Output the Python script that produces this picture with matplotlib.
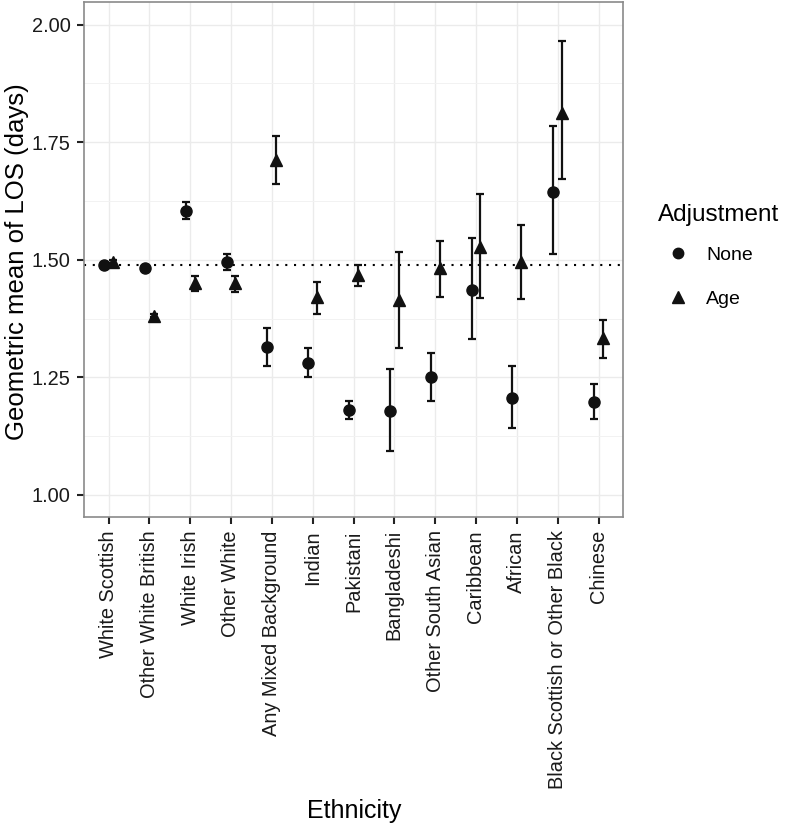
import matplotlib
matplotlib.use("Agg")
import matplotlib.pyplot as plt
from matplotlib.lines import Line2D
import numpy as np

plt.rcParams['font.family'] = ['Liberation Sans', 'DejaVu Sans']

categories = ["White Scottish", "Other White British", "White Irish", "Other White",
              "Any Mixed Background", "Indian", "Pakistani", "Bangladeshi",
              "Other South Asian", "Caribbean", "African",
              "Black Scottish or Other Black", "Chinese"]

none_mean = [1.489, 1.483, 1.604, 1.495, 1.314, 1.281, 1.181, 1.178, 1.251, 1.436, 1.207, 1.643, 1.198]
none_low  = [1.486, 1.480, 1.586, 1.478, 1.273, 1.250, 1.162, 1.094, 1.200, 1.331, 1.143, 1.512, 1.162]
none_high = [1.492, 1.486, 1.622, 1.512, 1.354, 1.313, 1.200, 1.268, 1.302, 1.547, 1.273, 1.784, 1.235]

age_mean = [1.496, 1.381, 1.451, 1.450, 1.711, 1.421, 1.468, 1.414, 1.482, 1.528, 1.496, 1.813, 1.334]
age_low  = [1.493, 1.378, 1.434, 1.431, 1.660, 1.385, 1.445, 1.313, 1.421, 1.419, 1.417, 1.672, 1.292]
age_high = [1.499, 1.384, 1.466, 1.465, 1.764, 1.453, 1.489, 1.517, 1.539, 1.640, 1.574, 1.965, 1.372]

reference = 1.489

fig = plt.figure(figsize=(7.87, 8.26), dpi=100)
ax = fig.add_axes([84/787, 1-517/826, (623-84)/787, (517-2)/826])

x = np.arange(len(categories))
off = 0.11
dark = '#111111'

# gridlines
ax.set_axisbelow(True)
ax.set_yticks([1.125, 1.375, 1.625, 1.875], minor=True)
ax.grid(True, which='major', color='#EBEBEB', lw=1.0)
ax.yaxis.grid(True, which='minor', color='#F2F2F2', lw=0.7)

ax.axhline(reference, color='black', lw=1.5, ls=(0, (1, 3.2)), zorder=2)

nm = np.array(none_mean); am = np.array(age_mean)
ax.errorbar(x - off, nm, yerr=[nm - np.array(none_low), np.array(none_high) - nm],
            fmt='o', color=dark, ms=8, elinewidth=1.6, capsize=2.6, capthick=1.6, zorder=3)
ax.errorbar(x + off, am, yerr=[am - np.array(age_low), np.array(age_high) - am],
            fmt='^', color=dark, ms=9, elinewidth=1.6, capsize=2.6, capthick=1.6, zorder=3)

ax.set_xlim(-0.6, len(categories) - 1 + 0.6)
ax.set_ylim(0.953, 2.048)
ax.set_xticks(x)
ax.set_xticklabels(categories, rotation=90, fontsize=14.4, color='#1a1a1a')
ax.set_yticks([1.00, 1.25, 1.50, 1.75, 2.00])
ax.set_yticklabels(['1.00', '1.25', '1.50', '1.75', '2.00'], fontsize=14.4, color='#1a1a1a')
ax.tick_params(axis='both', which='major', length=5, width=1.5, color='#222222', pad=4.5)
ax.tick_params(axis='y', which='minor', length=0)

for s in ax.spines.values():
    s.set_color('#8a8a8a')
    s.set_linewidth(1.2)

fig.text(17/787, 1-262/826, 'Geometric mean of LOS (days)', fontsize=18.5,
         rotation=90, ha='center', va='center')
fig.text(354/787, 1-818/826, 'Ethnicity', fontsize=18, ha='center', va='baseline')

handles = [Line2D([], [], marker='o', ls='none', color=dark, ms=7.5),
           Line2D([], [], marker='^', ls='none', color=dark, ms=8.5)]
leg = ax.legend(handles, ['None', 'Age'], title='Adjustment', loc='upper left',
                bbox_to_anchor=(650/787, 1-196/826), bbox_transform=fig.transFigure,
                frameon=False, fontsize=14, title_fontsize=17.5, labelspacing=1.35,
                handlelength=2.1, handletextpad=0.4, borderaxespad=0)
leg._legend_box.align = 'left'
leg._legend_box.sep = 15

fig.savefig('out.png', dpi=100)
